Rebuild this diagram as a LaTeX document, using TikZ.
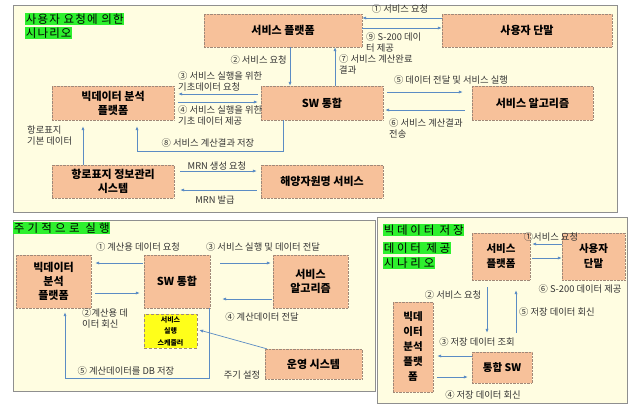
\documentclass[tikz,border=0pt]{standalone}
\usepackage{fontspec}
\setmainfont{Noto Sans CJK KR}
\usetikzlibrary{arrows.meta,calc}
\definecolor{panelbg}{HTML}{FFFDE1}
\definecolor{panelline}{HTML}{8F8F8F}
\definecolor{boxfill}{HTML}{F7C19A}
\definecolor{boxline}{HTML}{A08878}
\definecolor{arrowc}{HTML}{5B8CC4}
\definecolor{titlegreen}{HTML}{2EF02E}
\definecolor{schedyellow}{HTML}{FFFF1A}
\definecolor{labelc}{HTML}{333333}
\begin{document}
\begin{tikzpicture}[x=1pt,y=-1pt,
  panel/.style={draw=panelline,fill=panelbg,line width=0.8pt},
  box/.style={draw=boxline,densely dotted,fill=boxfill,inner sep=0pt,align=center,
    font=\fontsize{11}{14}\selectfont\bfseries},
  smallbox/.style={box,font=\fontsize{10.5}{15}\selectfont\bfseries},
  schedbox/.style={draw=boxline,densely dashed,fill=schedyellow,inner sep=0pt,align=center,
    font=\fontsize{7}{11.5}\selectfont\bfseries},
  lbl/.style={font=\fontsize{9.3}{11}\selectfont,text=labelc,inner sep=0pt,align=left},
  ttl/.style={fill=titlegreen,inner sep=0.6pt,anchor=north west,
    font=\fontsize{11.5}{13}\selectfont\addfontfeature{LetterSpace=10}},
  arr/.style={draw=arrowc,line width=0.7pt,-{Latex[length=4pt,width=3.2pt]}}
]
\useasboundingbox (0,0) rectangle (628,405);
% panels
\draw[panel] (13,5) rectangle (617,212);
\draw[panel] (13,220) rectangle (375,391);
\draw[panel] (377,217) rectangle (627,403);

% ================= top panel =================
\node[ttl] (t1a) at (25,13) {사용자 요청에 의한};
\node[ttl] (t1b) at (25,27) {시나리오};

\node[box,minimum width=158pt,minimum height=33pt] (sp) at (283,30.5) {서비스 플랫폼};
\node[box,minimum width=170pt,minimum height=33pt] (ud) at (527,30.5) {사용자 단말};
\node[box,minimum width=122pt,minimum height=34pt] (sw) at (322,103) {SW 통합};
\node[box,minimum width=121pt,minimum height=34pt] (alg) at (532.5,103) {서비스 알고리즘};
\node[box,minimum width=122pt,minimum height=34pt] (bd) at (113,103) {빅데이터 분석\\플랫폼};
\node[box,minimum width=122pt,minimum height=33pt] (nav) at (113,181.5) {항로표지 정보관리\\시스템};
\node[box,minimum width=122pt,minimum height=33pt] (mrn) at (322,181.5) {해양자원명 서비스};

\draw[arr] ($(ud.west)+(0,-12.5)$) -- ($(sp.east)+(0,-12.5)$);
\draw[arr] ($(sp.east)+(0,-2.5)$) -- ($(ud.west)+(0,-2.5)$);
\draw[arr] ($(sp.south)+(7,0)$) -- ($(sw.north)+(-32,0)$);
\draw[arr] ($(sw.north)+(13,0)$) -- ($(sp.south)+(52,0)$);
\draw[arr] ($(sw.west)+(-3,-9)$) -- ($(bd.east)+(4,-9)$);
\draw[arr] ($(bd.east)+(4,-1)$) -- ($(sw.west)+(-3,-1)$);
\draw[arr] ($(sw.east)+(4,-11)$) -- ($(alg.west)+(-9,-11)$);
\draw[arr] ($(alg.west)+(-7,7)$) -- ($(sw.east)+(2,7)$);
\draw[arr] ($(sw.south)+(-39,0)$) -- ++(0,31) -| ($(bd.south)+(24,6)$);
\draw[arr] ($(nav.north)+(-30,0)$) -- ($(bd.south)+(-30,6)$);
\draw[arr] ($(nav.east)+(6,-10.5)$) -- ($(mrn.west)+(-4,-10.5)$);
\draw[arr] ($(mrn.west)+(-4,8.5)$) -- ($(nav.east)+(6,8.5)$);

\node[lbl] (l1) at (400,9) {① 서비스 요청};
\node[lbl,anchor=north west] (l9) at (366,32) {⑨ S-200 데이\\터 제공};
\node[lbl,anchor=east] (l2) at (287,60) {② 서비스 요청};
\node[lbl,anchor=north west] (l7) at (339,54) {⑦ 서비스 계산완료\\결과};
\node[lbl,anchor=north west] (l3) at (178,71) {③ 서비스 실행을 위한\\기초데이터 요청};
\node[lbl,anchor=north west] (l4) at (178,105) {④ 서비스 실행을 위한\\기초 데이터 제공};
\node[lbl] (l5) at (451,80) {⑤ 데이터 전달 및 서비스 실행};
\node[lbl,anchor=north west] (l6) at (389,118) {⑥ 서비스 계산결과\\전송};
\node[lbl] (l8) at (208,143) {⑧ 서비스 계산결과 저장};
\node[lbl,anchor=north west] (lnav) at (27,126) {항로표지\\기본 데이터};
\node[lbl] (lm1) at (217,166) {MRN 생성 요청};
\node[lbl] (lm2) at (215,200) {MRN 발급};

% ================= bottom-left panel =================
\node[ttl,font=\fontsize{11.5}{13}\selectfont\addfontfeature{LetterSpace=28}] (t2) at (13,222) {주기적으로 실행};

\node[box,minimum width=75pt,minimum height=53pt] (bd2) at (53.5,281.5) {빅데이터\\분석\\플랫폼};
\node[box,minimum width=66pt,minimum height=53pt] (sw2) at (177,281.5) {SW 통합};
\node[box,minimum width=75pt,minimum height=53pt] (alg2) at (310.5,281.5) {서비스\\알고리즘};
\node[schedbox,minimum width=53pt,minimum height=34pt] (sch) at (170.5,331) {서비스\\실행\\스케줄러};
\node[box,minimum width=97pt,minimum height=30pt] (ops) at (313.5,364) {운영 시스템};

\draw[arr] ($(sw2.west)+(-1,-18.5)$) -- ($(bd2.east)+(4,-18.5)$);
\draw[arr] ($(bd2.east)+(4,11.5)$) -- ($(sw2.west)+(-4,11.5)$);
\draw[arr] ($(sw2.east)+(10,-18.5)$) -- ($(alg2.west)+(-2,-18.5)$);
\draw[arr] ($(alg2.west)+(-1,17.5)$) -- ($(sw2.east)+(12,17.5)$);
\draw[arr] ($(sw2.south)+(32,0)$) -- ++(0,70) -| ($(bd2.south)+(11.5,4)$);
\draw[arr] ($(ops.north west)+(2,0)$) -- ($(sch.east)+(2,-1)$);

\node[lbl] (b1) at (138,247) {① 계산용 데이터 요청};
\node[lbl,anchor=north west] (b2) at (82,308) {②계산용 데\\이터 회신};
\node[lbl] (b3) at (263,247) {③ 서비스 실행 및 데이터 전달};
\node[lbl] (b4) at (262,317) {④ 계산데이터 전달};
\node[lbl] (b5) at (126,371) {⑤ 계산데이터를 DB 저장};
\node[lbl] (b6) at (242,375) {주기 설정};

% ================= bottom-right panel =================
\node[ttl,font=\fontsize{11.5}{13}\selectfont\addfontfeature{LetterSpace=24}] (t3a) at (383,224) {빅데이터 저장};
\node[ttl,font=\fontsize{11.5}{13}\selectfont\addfontfeature{LetterSpace=24}] (t3b) at (383,242) {데이터 제공};
\node[ttl,font=\fontsize{11.5}{13}\selectfont\addfontfeature{LetterSpace=24}] (t3c) at (383,257) {시나리오};

\node[smallbox,minimum width=58pt,minimum height=47pt] (sp3) at (501,256.5) {서비스\\플랫폼};
\node[smallbox,minimum width=63pt,minimum height=47pt] (ud3) at (593.5,256.5) {사용자\\단말};
\node[smallbox,minimum width=40pt,minimum height=90pt] (bd3) at (413,347) {빅데\\이터\\분석\\플랫\\폼};
\node[smallbox,minimum width=60pt,minimum height=31pt] (sw3) at (502,367.5) {통합 SW};

\draw[arr] ($(ud3.west)+(0,-12.5)$) -- ($(sp3.east)+(2,-12.5)$);
\draw[arr] ($(sp3.east)+(2,1.5)$) -- ($(ud3.west)+(0,1.5)$);
\draw[arr] ($(sp3.south)+(-14,7)$) -- ($(sw3.north)+(-15,-19)$);
\draw[arr] ($(sw3.north)+(14,-19)$) -- ($(sp3.south)+(15,10)$);
\draw[arr] ($(sw3.west)+(0,-11.5)$) -- ($(bd3.east)+(4,9)$);
\draw[arr] ($(bd3.east)+(4,30)$) -- ($(sw3.west)+(-4,9.5)$);

\node[lbl] (r1) at (551,237) {①서비스 요청};
\node[lbl] (r6) at (580,289) {⑥ S-200 데이터 제공};
\node[lbl] (r2) at (453,295) {② 서비스 요청};
\node[lbl,anchor=west] (r5) at (519,312) {⑤ 저장 데이터 회신};
\node[lbl] (r3) at (477,342) {③ 저장 데이터 조회};
\node[lbl] (r4) at (483,395) {④ 저장 데이터 회신};
\end{tikzpicture}
\end{document}
